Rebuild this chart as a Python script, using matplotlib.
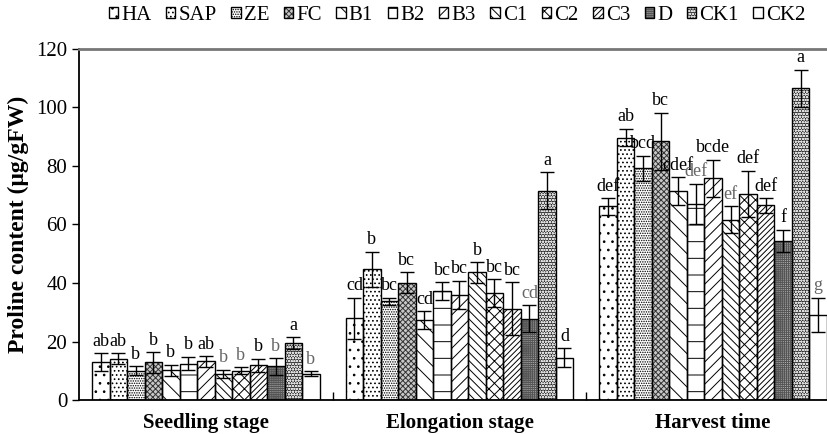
import numpy as np
import matplotlib.pyplot as plt
from matplotlib.legend_handler import HandlerTuple

plt.rcParams['font.family'] = ['Liberation Serif', 'DejaVu Serif']
plt.rcParams['hatch.linewidth'] = 0.7

stages = ['Seedling stage', 'Elongation stage', 'Harvest time']
treatments = ['HA', 'SAP', 'ZE', 'FC', 'B1', 'B2', 'B3', 'C1', 'C2', 'C3', 'D', 'CK1', 'CK2']

# rows = treatments, columns = stages
means = [
    [13.0, 28.0, 66.2],
    [14.1, 44.7, 89.7],
    [10.0, 33.7, 79.2],
    [12.9, 40.1, 88.4],
    [10.1, 27.3, 71.3],
    [12.4, 37.3, 67.1],
    [13.2, 36.0, 75.8],
    [9.0, 43.6, 61.6],
    [10.0, 36.6, 70.5],
    [11.8, 31.2, 66.5],
    [11.5, 27.8, 54.4],
    [19.4, 71.5, 106.6],
    [9.0, 14.5, 29.1],
]
errors = [
    [3.0, 7.0, 2.8],
    [1.8, 6.0, 3.0],
    [1.5, 1.3, 4.3],
    [3.5, 3.6, 9.8],
    [2.0, 3.0, 4.8],
    [2.3, 3.0, 6.8],
    [1.8, 4.8, 6.3],
    [1.4, 3.5, 4.6],
    [1.2, 4.7, 7.9],
    [2.3, 9.0, 2.5],
    [2.8, 4.6, 3.8],
    [2.0, 6.3, 6.3],
    [0.8, 3.2, 5.9],
]
letters = [
    ['ab', 'cd', 'def'],
    ['ab', 'b', 'ab'],
    ['b', 'bc', 'bcd'],
    ['b', 'bc', 'bc'],
    ['b', 'cd', 'cdef'],
    ['b', 'bc', 'def'],
    ['ab', 'bc', 'bcde'],
    ['b', 'b', 'ef'],
    ['b', 'bc', 'def'],
    ['b', 'bc', 'def'],
    ['b', 'cd', 'f'],
    ['a', 'a', 'a'],
    ['b', 'd', 'g'],
]
# letters printed in grey in the original
grey_letters = [(7, 0), (8, 0), (10, 0), (12, 0), (10, 1), (5, 2), (7, 2), (12, 2)]

# hatch, face colour, hatch colour
styles = [
    ('..', 'white', 'black'),
    ('....', 'white', 'black'),
    ('.......', 'white', 'black'),
    ('xxxxxx', '#c8c8c8', '#333333'),
    ('\\\\', 'white', 'black'),
    ('-', 'white', 'black'),
    ('///', 'white', 'black'),
    ('\\\\\\\\', 'white', 'black'),
    ('xxx', 'white', 'black'),
    ('//////', 'white', 'black'),
    ('++++++++', '#a8a8a8', '#555555'),
    ('oooooo', '#2a2a2a', '#dddddd'),
    ('', 'white', 'black'),
]

fig = plt.figure(figsize=(8.28, 4.34), dpi=100)
ax = fig.add_axes([0.0954, 0.0783, 0.919, 0.809])

x = np.arange(len(stages))
w = 0.069
handles = []
for j, name in enumerate(treatments):
    pos = x + (j - 6) * w
    hatch, fc, hc = styles[j]
    b1 = ax.bar(pos, means[j], w, color=fc, edgecolor=hc, hatch=hatch, linewidth=0, zorder=2)
    b2 = ax.bar(pos, means[j], w, fill=False, edgecolor='black', linewidth=1, zorder=3)
    ax.errorbar(pos, means[j], yerr=errors[j], fmt='none', ecolor='black',
                elinewidth=1, capsize=5, capthick=1, zorder=4)
    for k in range(len(stages)):
        col = '#666666' if (j, k) in grey_letters else 'black'
        ax.text(pos[k], means[j][k] + errors[j][k] + 1.2, letters[j][k],
                ha='center', va='bottom', fontsize=13, color=col)
    handles.append((b1[0], b2[0]))

ax.set_xlim(-0.5, 2.5)
ax.set_ylim(0, 120)
ax.set_yticks(np.arange(0, 121, 20))
ax.set_xticks(x)
ax.set_xticklabels(stages, fontsize=15, fontweight='bold')
ax.set_xticks([0.5, 1.5], minor=True)
ax.tick_params(axis='x', which='major', length=0, pad=9)
ax.tick_params(axis='x', which='minor', direction='in', length=6, width=1)
ax.tick_params(axis='y', labelsize=15, length=5, width=1)
ax.set_ylabel('Proline content (μg/gFW)', fontsize=17, fontweight='bold', labelpad=5)

ax.spines['left'].set_linewidth(1.3)
ax.spines['bottom'].set_linewidth(1.3)
ax.spines['top'].set_color('#777777')
ax.spines['top'].set_linewidth(2)
ax.spines['right'].set_visible(False)

fig.legend(handles, treatments, handler_map={tuple: HandlerTuple(ndivide=1)},
           loc='upper right', bbox_to_anchor=(0.99, 1.02), ncol=13, frameon=False,
           fontsize=15, handlelength=0.45, handleheight=0.45, handletextpad=0.15,
           columnspacing=0.7, borderpad=0.2)

fig.savefig('out.png', dpi=100)
